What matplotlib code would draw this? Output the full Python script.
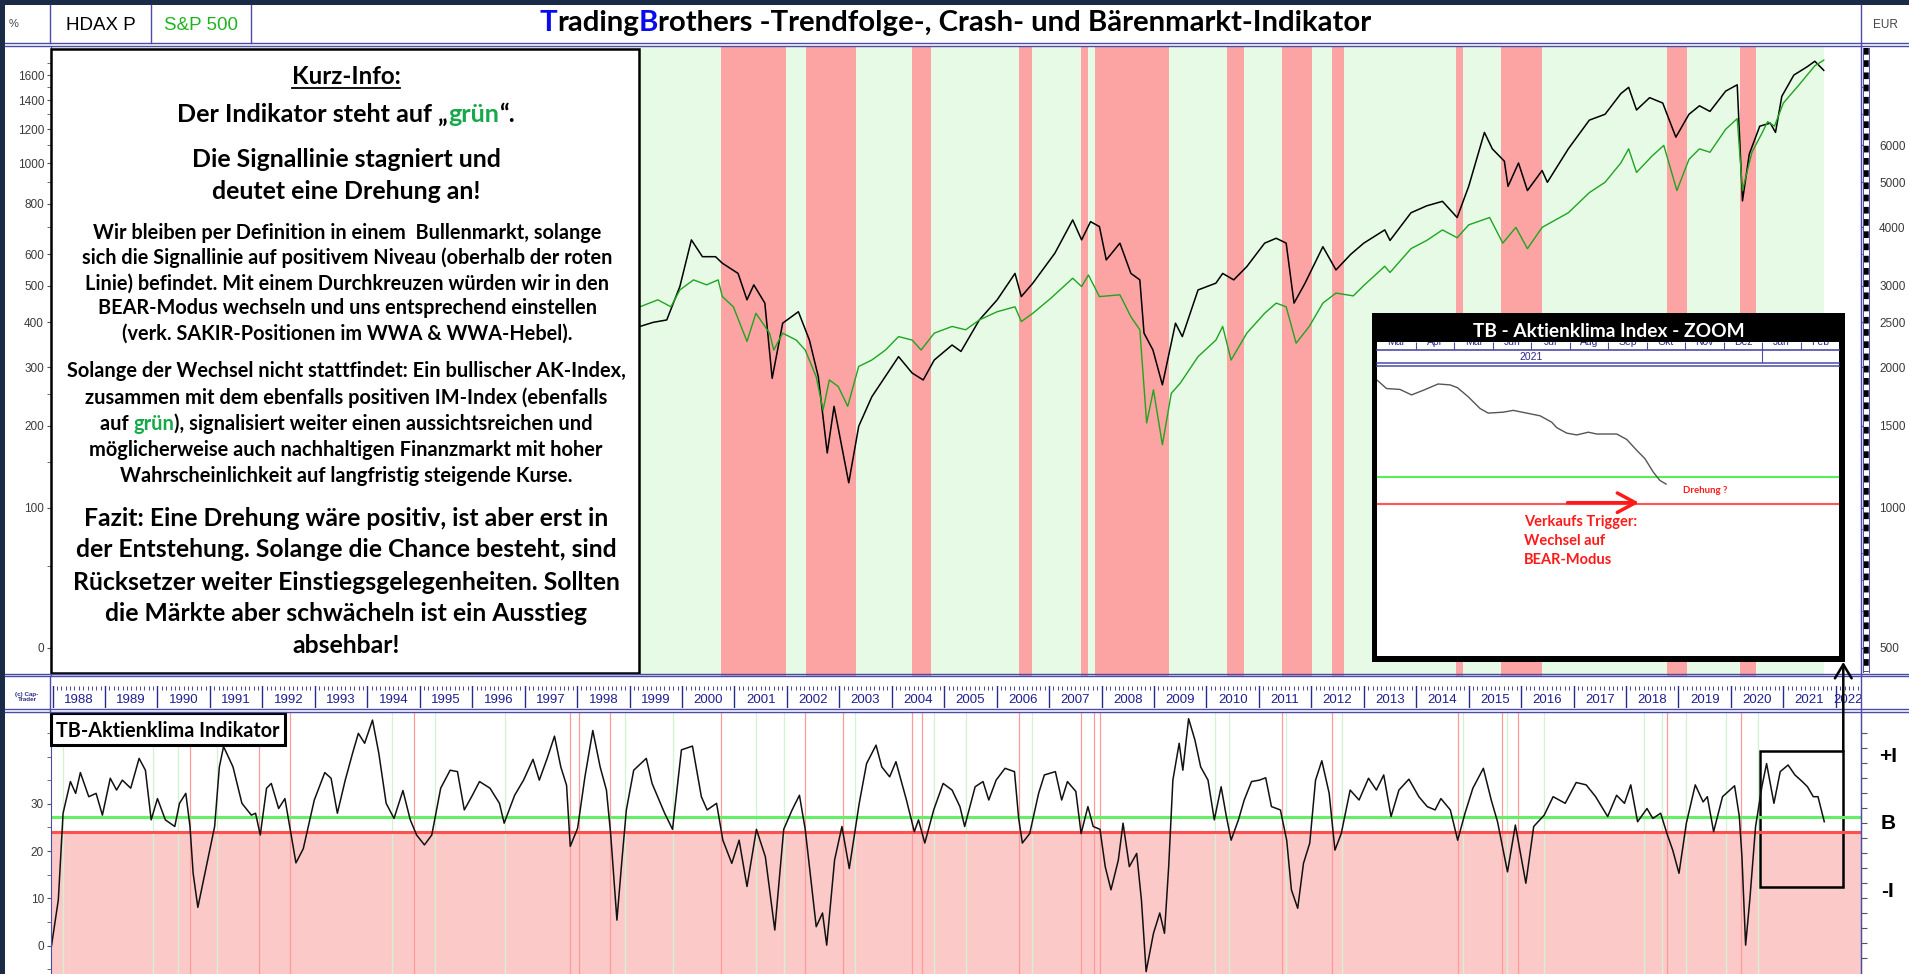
import numpy as np
import matplotlib
matplotlib.use("Agg")
import matplotlib.pyplot as plt
from matplotlib.patches import Rectangle

# ---------------- data ----------------
# upper panel, change in % (left axis): HDAX P (black) and S&P 500 (green)
hdax_years = [1999.0, 1999.20, 1999.45, 1999.71, 1999.96, 2000.18, 2000.39, 2000.64, 2000.77, 2001.07,
              2001.24, 2001.37, 2001.58, 2001.72, 2001.92, 2002.22, 2002.43, 2002.60, 2002.77, 2002.90,
              2003.18, 2003.37, 2003.62, 2003.96, 2004.13, 2004.39, 2004.60, 2004.81, 2005.15, 2005.32,
              2005.67, 2006.01, 2006.35, 2006.47, 2006.69, 2007.11, 2007.45, 2007.62, 2007.79, 2007.96,
              2008.09, 2008.35, 2008.56, 2008.73, 2008.81, 2008.98, 2009.16, 2009.41, 2009.54, 2009.84,
              2010.18, 2010.31, 2010.52, 2010.77, 2011.11, 2011.33, 2011.52, 2011.67, 2011.88, 2012.22,
              2012.47, 2012.75, 2013.0, 2013.4, 2013.5, 2013.9, 2014.2, 2014.5, 2014.78, 2015.0,
              2015.3, 2015.45, 2015.68, 2015.75, 2015.95, 2016.12, 2016.4, 2016.5, 2016.9, 2017.3,
              2017.6, 2017.9, 2018.05, 2018.2, 2018.45, 2018.7, 2018.95, 2019.2, 2019.4, 2019.6,
              2019.9, 2020.12, 2020.22, 2020.35, 2020.55, 2020.75, 2020.85, 2020.97, 2021.2, 2021.45,
              2021.6, 2021.77]
hdax_pct = [380, 390, 400, 406, 497, 652, 592, 592, 570, 537,
            459, 502, 450, 279, 398, 427, 358, 282, 162, 230,
            126, 199, 246, 295, 322, 289, 276, 315, 347, 333,
            406, 459, 537, 468, 507, 604, 730, 652, 723, 703,
            581, 640, 537, 517, 374, 336, 267, 398, 366, 487,
            507, 537, 517, 559, 640, 658, 640, 450, 507, 627,
            548, 600, 640, 690, 650, 760, 790, 810, 740, 880,
            1180, 1080, 1010, 880, 1000, 860, 960, 900, 1080, 1260,
            1300, 1450, 1500, 1330, 1420, 1380, 1150, 1300, 1360, 1320,
            1470, 1520, 812, 1050, 1220, 1240, 1180, 1430, 1600, 1670,
            1720, 1640]

spx_years = [1999.0, 1999.20, 1999.54, 1999.79, 1999.96, 2000.22, 2000.47, 2000.69, 2000.77, 2000.98,
             2001.24, 2001.41, 2001.67, 2001.75, 2001.92, 2002.18, 2002.35, 2002.56, 2002.69, 2002.81,
             2002.98, 2003.16, 2003.37, 2003.62, 2003.88, 2004.13, 2004.39, 2004.56, 2004.81, 2005.15,
             2005.41, 2005.67, 2006.01, 2006.35, 2006.47, 2006.69, 2007.03, 2007.45, 2007.62, 2007.75,
             2007.96, 2008.35, 2008.56, 2008.73, 2008.86, 2008.99, 2009.16, 2009.33, 2009.50, 2009.84,
             2010.18, 2010.31, 2010.47, 2010.77, 2011.11, 2011.33, 2011.52, 2011.71, 2011.96, 2012.22,
             2012.47, 2012.8, 2013.0, 2013.4, 2013.5, 2013.9, 2014.2, 2014.5, 2014.78, 2015.0,
             2015.4, 2015.65, 2015.9, 2016.12, 2016.4, 2016.9, 2017.3, 2017.6, 2017.9, 2018.05,
             2018.2, 2018.5, 2018.72, 2018.97, 2019.2, 2019.4, 2019.6, 2019.9, 2020.12, 2020.22,
             2020.4, 2020.6, 2020.7, 2020.83, 2021.0, 2021.3, 2021.6, 2021.77]
spx_pct = [430, 440, 459, 440, 487, 517, 502, 517, 468, 440,
           355, 423, 374, 336, 374, 358, 336, 282, 224, 276,
           264, 230, 302, 315, 336, 366, 358, 336, 374, 390,
           382, 406, 427, 440, 402, 423, 463, 522, 497, 532,
           468, 473, 414, 382, 204, 258, 173, 252, 270, 322,
           358, 390, 315, 374, 423, 450, 440, 351, 390, 450,
           478, 470, 500, 560, 540, 620, 650, 690, 660, 710,
           740, 640, 700, 620, 700, 760, 850, 900, 1000, 1080,
           950, 1040, 1100, 860, 1020, 1080, 1060, 1200, 1270, 860,
           1060, 1180, 1250, 1220, 1380, 1520, 1680, 1730]

# red (bear) phases of the upper panel; green everywhere else up to the last signal
bear_start = [2000.75, 2002.37, 2004.39, 2006.42, 2007.61, 2007.88, 2010.40, 2011.44, 2012.39,
              2014.76, 2015.61, 2018.78, 2020.17]
bear_end = [2001.99, 2003.31, 2004.74, 2006.67, 2007.74, 2009.29, 2010.71, 2012.02, 2012.62,
            2014.89, 2016.40, 2019.16, 2020.47]
signal_from = 1987.97
signal_to = 2021.77

# TB-Aktienklima indicator (lower panel)
ind_years = [1987.98, 1988.11, 1988.20, 1988.34, 1988.44, 1988.53, 1988.69, 1988.83, 1988.95, 1989.10,
             1989.22, 1989.33, 1989.49, 1989.65, 1989.77, 1989.88, 1990.00, 1990.15, 1990.33, 1990.42,
             1990.54, 1990.62, 1990.68, 1990.77, 1990.97, 1991.09, 1991.18, 1991.26, 1991.44, 1991.61,
             1991.79, 1991.87, 1991.96, 1992.08, 1992.17, 1992.31, 1992.43, 1992.64, 1992.78, 1992.99,
             1993.19, 1993.31, 1993.43, 1993.58, 1993.72, 1993.83, 1993.95, 1994.10, 1994.22, 1994.36,
             1994.51, 1994.68, 1994.82, 1994.94, 1995.09, 1995.23, 1995.40, 1995.58, 1995.72, 1995.85,
             1995.99, 1996.14, 1996.34, 1996.52, 1996.61, 1996.81, 1996.98, 1997.16, 1997.28, 1997.43,
             1997.57, 1997.69, 1997.80, 1997.87, 1998.01, 1998.15, 1998.30, 1998.44, 1998.56, 1998.64,
             1998.76, 1998.85, 1998.94, 1999.08, 1999.32, 1999.43, 1999.67, 1999.82, 1999.99, 2000.20,
             2000.37, 2000.48, 2000.66, 2000.78, 2000.95, 2001.09, 2001.24, 2001.42, 2001.59, 2001.77,
             2001.94, 2002.10, 2002.24, 2002.35, 2002.56, 2002.68, 2002.76, 2002.91, 2003.05, 2003.19,
             2003.38, 2003.52, 2003.70, 2003.81, 2003.96, 2004.08, 2004.28, 2004.43, 2004.51, 2004.63,
             2004.80, 2004.98, 2005.15, 2005.30, 2005.39, 2005.59, 2005.74, 2005.85, 2005.99, 2006.16,
             2006.34, 2006.42, 2006.49, 2006.63, 2006.80, 2006.91, 2007.12, 2007.24, 2007.35, 2007.51,
             2007.61, 2007.74, 2007.84, 2007.97, 2008.07, 2008.18, 2008.32, 2008.41, 2008.53, 2008.67,
             2008.76, 2008.85, 2008.99, 2009.11, 2009.20, 2009.28, 2009.36, 2009.48, 2009.55, 2009.66,
             2009.78, 2009.89, 2010.03, 2010.15, 2010.28, 2010.38, 2010.47, 2010.61, 2010.72, 2010.86,
             2011.01, 2011.13, 2011.24, 2011.41, 2011.53, 2011.62, 2011.74, 2011.85, 2011.97, 2012.08,
             2012.20, 2012.34, 2012.45, 2012.57, 2012.74, 2012.91, 2013.09, 2013.24, 2013.38, 2013.52,
             2013.67, 2013.86, 2014.05, 2014.21, 2014.36, 2014.47, 2014.65, 2014.79, 2014.93, 2015.08,
             2015.28, 2015.43, 2015.55, 2015.74, 2015.89, 2016.09, 2016.24, 2016.44, 2016.61, 2016.84,
             2017.05, 2017.24, 2017.42, 2017.65, 2017.82, 2017.97, 2018.09, 2018.22, 2018.40, 2018.51,
             2018.66, 2018.78, 2018.89, 2019.01, 2019.15, 2019.32, 2019.47, 2019.55, 2019.67, 2019.84,
             2020.07, 2020.16, 2020.21, 2020.28, 2020.36, 2020.47, 2020.59, 2020.68, 2020.82, 2020.94,
             2021.09, 2021.22, 2021.36, 2021.46, 2021.57, 2021.66, 2021.78]
ind_vals = [0.0, 9.7, 28.0, 34.7, 32.2, 36.6, 31.5, 32.2, 27.6, 35.4,
            32.9, 35.0, 33.3, 39.6, 37.1, 26.6, 31.1, 26.6, 25.2, 30.1,
            32.2, 25.2, 15.3, 8.1, 18.8, 25.2, 37.8, 42.1, 37.8, 30.1,
            27.6, 28.0, 23.4, 33.3, 34.3, 29.0, 31.1, 17.5, 20.5, 30.8,
            36.6, 35.4, 28.0, 35.0, 40.7, 44.9, 42.8, 47.7, 40.7, 30.1,
            26.9, 32.8, 26.6, 23.4, 21.3, 23.4, 33.3, 37.1, 36.8, 28.7,
            31.5, 34.7, 33.3, 30.1, 25.9, 31.8, 35.0, 39.4, 35.0, 39.6,
            44.3, 37.8, 33.9, 21.0, 24.8, 35.7, 45.5, 37.8, 32.9, 23.7,
            5.4, 17.4, 28.7, 37.1, 39.6, 34.3, 28.0, 24.6, 41.4, 42.2,
            31.5, 28.7, 30.1, 22.3, 17.4, 22.3, 12.5, 24.6, 18.8, 3.3,
            24.6, 28.7, 31.8, 24.6, 4.0, 6.9, 0.1, 18.1, 25.2, 16.3,
            30.1, 38.5, 42.4, 37.8, 35.7, 38.9, 30.8, 24.1, 26.6, 21.7,
            28.7, 34.3, 32.9, 29.4, 25.2, 33.6, 34.7, 30.8, 35.0, 37.5,
            36.8, 26.9, 21.7, 23.7, 32.2, 36.1, 36.8, 30.8, 34.7, 32.6,
            23.7, 29.4, 25.2, 24.6, 16.7, 11.8, 18.1, 25.9, 16.7, 19.5,
            9.7, -5.5, 2.6, 6.9, 2.6, 16.7, 35.0, 42.8, 37.1, 48.0,
            43.5, 37.8, 35.0, 26.6, 33.6, 27.3, 22.3, 26.6, 30.8, 34.7,
            35.0, 35.5, 29.4, 28.7, 22.3, 11.8, 7.9, 17.4, 21.7, 35.0,
            39.1, 32.2, 20.2, 23.7, 32.9, 30.8, 35.4, 32.9, 36.1, 27.3,
            32.9, 35.2, 31.5, 29.4, 28.7, 31.1, 28.7, 22.3, 28.0, 33.3,
            37.5, 30.8, 26.2, 15.6, 25.5, 13.2, 25.2, 27.6, 31.5, 30.1,
            34.5, 34.0, 31.5, 27.3, 31.8, 30.1, 34.0, 26.2, 29.0, 26.9,
            28.0, 23.7, 20.2, 15.3, 25.9, 34.0, 30.4, 31.5, 24.1, 31.5,
            33.8, 27.3, 18.8, 0.1, 9.7, 25.2, 33.6, 38.5, 30.1, 36.8,
            38.2, 36.1, 34.7, 33.6, 31.5, 31.5, 26.2]
bull_level = 27.1
bear_level = 24.1
red_marks = [1990.62, 1991.93, 1992.52, 1994.90, 1997.86, 1998.03, 1998.62, 2000.75, 2002.35, 2003.08,
             2004.39, 2004.57, 2006.43, 2007.61, 2007.86, 2007.97, 2011.44, 2012.40, 2014.79, 2015.63,
             2015.94, 2018.78, 2020.19]
green_marks = [1988.20, 1989.92, 1990.39, 1991.14, 1994.47, 1995.29, 1996.63, 1998.91, 1999.82, 2001.42,
               2001.94, 2003.29, 2004.80, 2005.41, 2006.68, 2010.17, 2010.43, 2011.51, 2012.59, 2014.90,
               2015.74, 2016.44, 2018.34, 2018.68, 2019.15, 2019.90, 2020.51]

# zoom window (months after 1 March 2021)
zoom_months = [0, 0.24, 0.59, 0.89, 1.19, 1.58, 1.89, 2.08, 2.36, 2.67, 2.88, 3.27, 3.53, 3.88,
               4.23, 4.53, 4.66, 4.92, 5.18, 5.48, 5.70, 6.22, 6.48, 6.74, 6.95, 7.17, 7.34, 7.50]
zoom_vals = [37.7, 36.8, 36.7, 36.1, 36.6, 37.3, 37.2, 36.9, 35.9, 34.6, 34.1, 34.2, 34.4, 34.1,
             33.8, 33.1, 32.5, 31.9, 31.7, 32.0, 31.8, 31.8, 31.2, 30.0, 29.1, 27.6, 26.7, 26.3]
zoom_month_names = ["Mär", "Apr", "Mai", "Jun", "Jul", "Aug", "Sep", "Okt", "Nov", "Dez", "Jan", "Feb"]

pct_ticks = [0, 100, 200, 300, 400, 500, 600, 800, 1000, 1200, 1400, 1600]
eur_ticks = [500, 1000, 1500, 2000, 2500, 3000, 4000, 5000, 6000]
ind_ticks = [0, 10, 20, 30]
years = list(range(1988, 2023))

# ---------------- layout ----------------
W, H = 1909, 974
NAVY = "#1b2a47"
FRAME = "#4b4ba8"
BEAR = "#fca3a3"
BULL = "#e6fae6"
PINK = "#fcc9c9"
GTXT = "#17a84a"
XMIN, XMAX = 1987.97, 2022.48

fig = plt.figure(figsize=(W / 100, H / 100), dpi=100)
fig.patch.set_facecolor("white")
renderer = fig.canvas.get_renderer()


def frac(x0, y0, x1, y1):
    return [x0 / W, 1 - y1 / H, (x1 - x0) / W, (y1 - y0) / H]


def fwd(p):
    return np.log(np.clip(100 + np.asarray(p, dtype=float), 1e-6, None))


def inv(v):
    return np.exp(v) - 100


# upper panel
ax = fig.add_axes(frac(51, 47, 1861, 676))
ax.set_yscale("function", functions=(fwd, inv))
ax.set_xlim(XMIN, XMAX)
ax.set_ylim(-13.1, 1853)
ax.axvspan(signal_from, signal_to, color=BULL, lw=0)
for s, e in zip(bear_start, bear_end):
    ax.axvspan(s, e, color=BEAR, lw=0)
ax.plot(hdax_years, hdax_pct, color="black", lw=1.1)
ax.plot(spx_years, spx_pct, color="#1fa51f", lw=1.0)
ax.set_xticks([])
ax.set_yticks(pct_ticks)
ax.set_yticklabels([str(t) for t in pct_ticks], family="Liberation Sans", fontsize=8.5, color="#3a3a3a")
ax.set_yticks([50, 150, 250, 700, 900, 1100, 1300, 1500, 1700], minor=True)
ax.tick_params(axis="y", which="both", direction="out", length=3, pad=2, color="#555555")
for sp in ["top", "bottom"]:
    ax.spines[sp].set_visible(False)
for sp in ["left", "right"]:
    ax.spines[sp].set_color(FRAME)

axr = ax.twinx()
axr.set_yscale("function", functions=(fwd, inv))
axr.set_ylim(-13.1, 1853)
axr.set_yticks([e / 5 - 100 for e in eur_ticks])
axr.set_yticklabels([str(e) for e in eur_ticks], family="Liberation Sans", fontsize=8.5, color="#3a3a3a")
axr.set_yticks([e / 5 - 100 for e in [600, 700, 800, 900, 3500, 7000, 8000]], minor=True)
axr.tick_params(axis="y", which="both", direction="out", length=3, pad=10, color="#555555")
for sp in axr.spines.values():
    sp.set_visible(False)

# date strip
axd = fig.add_axes(frac(51, 686, 1861, 708))
axd.set_xlim(XMIN, XMAX)
axd.set_ylim(0, 1)
axd.axis("off")
for y in years:
    axd.axvline(y, color="#2a2a8a", lw=1)
    axd.vlines([y + m / 12 for m in range(1, 12)], 0.8, 1.0, color="#2a2a8a", lw=0.6)
    axd.text(y + 0.5 if y < 2022 else 2022.24, 0.35, str(y), ha="center", va="center",
             family=["Liberation Sans Narrow", "Liberation Sans"], fontsize=9.5, color="#1f1f8f", clip_on=True)

# lower panel
axb = fig.add_axes(frac(51, 713, 1861, 974))
axb.set_xlim(XMIN, XMAX)
axb.set_ylim(-6.0, 49.2)
axb.axhspan(-10, bear_level, color=PINK, lw=0)
for r in red_marks:
    axb.axvline(r, color="#ff9a9a", lw=0.9)
for g in green_marks:
    axb.axvline(g, color="#d2f3d2", lw=0.9)
axb.axhline(bull_level, color="#66ee66", lw=2.2)
axb.axhline(bear_level, color="#ff5050", lw=2.2)
axb.plot(ind_years, ind_vals, color="#111111", lw=1.1)
axb.add_patch(Rectangle((2020.56, 12.3), 2022.14 - 2020.56, 41.2 - 12.3, fill=False, ec="black", lw=1.8))
axb.set_xticks([])
axb.set_yticks(ind_ticks)
axb.set_yticklabels([str(t) for t in ind_ticks], family="Liberation Sans", fontsize=8.5, color="#3a3a3a")
axb.set_yticks([-5, 5, 15, 25, 35, 40, 45], minor=True)
axb.tick_params(axis="y", which="both", direction="out", length=3, pad=2, color="#555555")
for sp in ["top", "bottom"]:
    axb.spines[sp].set_visible(False)
for sp in ["left", "right"]:
    axb.spines[sp].set_color(FRAME)
axb2 = axb.twinx()
axb2.set_ylim(-6.0, 49.2)
axb2.set_yticks([44.9 - 3.17 * k for k in range(16)])
axb2.set_yticklabels([])
axb2.tick_params(axis="y", direction="out", length=4, color="#555555")
for sp in axb2.spines.values():
    sp.set_visible(False)

# ---------------- overlay (pixel coordinates) ----------------
ov = fig.add_axes([0, 0, 1, 1])
ov.set_xlim(0, W)
ov.set_ylim(H, 0)
ov.axis("off")
ov.set_zorder(5)


def text_w(s, size, family="Lato", weight="bold"):
    t = fig.text(0, 0, s, fontsize=size, family=family, weight=weight)
    w = t.get_window_extent(renderer).width
    t.remove()
    return w


def fit(lines, targets, family="Lato", weight="bold"):
    r = [tw / text_w(s, 20, family, weight) for s, tw in zip(lines, targets)]
    return 20 * float(np.median(r))


def rich(axis, xc, yc, parts, size, family="Lato", weight="bold"):
    full = "".join(p[0] for p in parts)
    total = text_w(full, size, family, weight)
    x0 = xc - total / 2
    base = yc + 0.358 * size * 100 / 72
    prefix = ""
    for txt, col in parts:
        off = 0
        if prefix:
            off = text_w(prefix + txt[0], size, family, weight) - text_w(txt[0], size, family, weight)
        axis.text(x0 + off, base, txt, fontsize=size, color=col, family=family, weight=weight,
                  ha="left", va="baseline")
        prefix += txt
    return x0, total, base


# navy frame and table lines
ov.add_patch(Rectangle((0, 0), 4.5, H, color=NAVY, lw=0))
ov.add_patch(Rectangle((0, 0), W, 5, color=NAVY, lw=0))
for yy in [43, 46, 673.5, 676, 708.5, 711.5]:
    ov.plot([4.5, W], [yy, yy], color=FRAME, lw=1)
for xx in [50, 151, 251]:
    ov.plot([xx, xx], [5, 43], color=FRAME, lw=1)
ov.plot([50, 50], [676, 711.5], color=FRAME, lw=1)
ov.plot([1861, 1861], [5, H], color=FRAME, lw=1)

# scale bar right of the upper panel
ov.plot([1866, 1866], [48, 672], color="white", lw=4, solid_capstyle="butt")
ov.plot([1866, 1866], [48, 672], color="black", lw=4, dashes=(1.2, 1.0), dash_capstyle="butt")
ov.plot([1862.8, 1862.8], [48, 672], color=FRAME, lw=0.7)
ov.plot([1869.2, 1869.2], [48, 672], color=FRAME, lw=0.7)
ov.add_patch(Rectangle((1863, 49), 6, 11, color="#f0e040", lw=0))

# header
ov.text(13.5, 24, "%", fontsize=8, color="#444444", family="Liberation Sans", ha="center", va="center")
ov.text(100.5, 25, "HDAX P", fontsize=13.5, color="black", family=["Liberation Sans Narrow", "Liberation Sans"],
        ha="center", va="center")
ov.text(201, 25, "S&P 500", fontsize=13.5, color="#1fb41f", family=["Liberation Sans Narrow", "Liberation Sans"],
        ha="center", va="center")
ov.text(1885, 25, "EUR", fontsize=8.5, color="#444444", family="Liberation Sans", ha="center", va="center")
title = "TradingBrothers -Trendfolge-, Crash- und Bärenmarkt-Indikator"
ts = fit([title], [835])
rich(ov, 955.5, 20, [("T", "#0a0aee"), ("rading", "black"), ("B", "#0a0aee"),
                     ("rothers -Trendfolge-, Crash- und Bärenmarkt-Indikator", "black")], ts)

# info box
ov.add_patch(Rectangle((51, 49), 588, 624, fc="white", ec="black", lw=1.8))
XC = 346
s1 = fit(["Kurz-Info:"], [109])
x0, tw, base = rich(ov, XC, 75.7, [("Kurz-Info:", "black")], s1)
ov.plot([x0, x0 + tw], [base + 3.5, base + 3.5], color="black", lw=1.3)

s2 = fit(["Der Indikator steht auf „grün“."], [338])
rich(ov, XC, 113.3, [("Der Indikator steht auf „", "black"), ("grün", GTXT), ("“.", "black")], s2)

g3 = ["Die Signallinie stagniert und", "deutet eine Drehung an!"]
s3 = fit(g3, [309, 270])
for line, yy in zip(g3, [158.3, 190]):
    rich(ov, XC, yy, [(line, "black")], s3)

g4 = ["Wir bleiben per Definition in einem  Bullenmarkt, solange",
      "sich die Signallinie auf positivem Niveau (oberhalb der roten",
      "Linie) befindet. Mit einem Durchkreuzen würden wir in den",
      "BEAR-Modus wechseln und uns entsprechend einstellen",
      "(verk. SAKIR-Positionen im WWA & WWA-Hebel)."]
s4 = fit(g4, [508, 532, 523, 494, 440])
for line, yy in zip(g4, [231.7, 256.7, 282.3, 307.3, 332.3]):
    rich(ov, XC + 1, yy, [(line, "black")], s4)

g5 = ["Solange der Wechsel nicht stattfindet: Ein bullischer AK-Index,",
      "zusammen mit dem ebenfalls positiven IM-Index (ebenfalls",
      "auf grün), signalisiert weiter einen aussichtsreichen und",
      "möglicherweise auch nachhaltigen Finanzmarkt mit hoher",
      "Wahrscheinlichkeit auf langfristig steigende Kurse."]
s5 = fit(g5, [549, 521, 493, 511, 448])
for line, yy in zip(g5, [370, 397, 423.3, 449, 475]):
    if line.startswith("auf grün"):
        rich(ov, XC, yy, [("auf ", "black"), ("grün", GTXT),
                          ("), signalisiert weiter einen aussichtsreichen und", "black")], s5)
    else:
        rich(ov, XC, yy, [(line, "black")], s5)

g6 = ["Fazit: Eine Drehung wäre positiv, ist aber erst in",
      "der Entstehung. Solange die Chance besteht, sind",
      "Rücksetzer weiter Einstiegsgelegenheiten. Sollten",
      "die Märkte aber schwächeln ist ein Ausstieg",
      "absehbar!"]
s6 = fit(g6, [525, 541, 547, 485, 111])
for line, yy in zip(g6, [516.7, 548.3, 580.7, 612.3, 644]):
    rich(ov, XC, yy, [(line, "black")], s6)

# small left cell under the panel
ov.text(27, 697, "(c) Cap-\nTrader", fontsize=4.5, color="#2a2a8a", family="Liberation Sans",
        weight="bold", ha="center", va="center", linespacing=1.0)

# lower panel label box and right-hand labels
ov.add_patch(Rectangle((51, 713), 234, 32, fc="white", ec="black", lw=2.2))
s7 = fit(["TB-Aktienklima Indikator"], [222])
rich(ov, 168, 730, [("TB-Aktienklima Indikator", "black")], s7)
for lab, yy in [("+I", 756.7), ("B", 823.3), ("-I", 891.7)]:
    ov.text(1888, yy, lab, fontsize=15, weight="bold", family="Liberation Sans", ha="center", va="center")

# zoom window frame
ov.add_patch(Rectangle((1371.7, 312.7), 473.3, 349, color="black", lw=0))
ov.add_patch(Rectangle((1377.3, 341.7), 462, 314.3, color="white", lw=0))
s8 = fit(["TB - Aktienklima Index - ZOOM"], [272])
rich(ov, 1609, 330.5, [("TB - Aktienklima Index - ZOOM", "white")], s8)

axm = fig.add_axes(frac(1377.3, 341.7, 1839.3, 350.4))
axm.set_zorder(10)
axm.set_xlim(0, 12)
axm.set_ylim(0, 1)
axm.axis("off")
for m, name in enumerate(zoom_month_names):
    axm.text(m + 0.5, 1.0, name, ha="center", va="center", fontsize=7.5, color="#2a2a8a",
             family="Liberation Sans", clip_on=True)
axm.vlines(range(1, 12), 0, 1, color=FRAME, lw=0.8)
axm.axhline(0, color=FRAME, lw=1.2, clip_on=False)

axy = fig.add_axes(frac(1377.3, 350.4, 1839.3, 362.7))
axy.set_zorder(10)
axy.set_xlim(0, 12)
axy.set_ylim(0, 1)
axy.axis("off")
axy.text(4.0, 0.5, "2021", ha="center", va="center", fontsize=7.5, color="#2a2a8a", family="Liberation Sans")
axy.axvline(10, color=FRAME, lw=0.8)
axy.plot([0, 12], [-0.03, -0.03], color=FRAME, lw=1.1, clip_on=False)
axy.plot([0, 12], [-0.3, -0.3], color=FRAME, lw=1.1, clip_on=False)

axz = fig.add_axes(frac(1377.3, 366.7, 1839.3, 656))
axz.set_zorder(10)
axz.set_xlim(0, 12)
axz.set_ylim(7.4, 39.2)
axz.axis("off")
axz.axhline(bull_level, color="#55ee55", lw=1.5)
axz.axhline(bear_level, color="#ff5555", lw=1.5)
axz.plot(zoom_months, zoom_vals, color="#555555", lw=1.0)
axz.annotate("", xy=(6.87, 24.25), xytext=(4.87, 24.25),
             arrowprops=dict(arrowstyle="->,head_length=1.3,head_width=0.7", color="#ff1a1a", lw=2.5))
axz.text(8.52, 25.56, "Drehung ?", color="#ff1a1a", fontsize=fit(["Drehung ?"], [44]), weight="bold",
         family="Lato", ha="center", va="center")
s9 = fit(["Verkaufs Trigger:"], [113])
for line, yy in zip(["Verkaufs Trigger:", "Wechsel auf", "BEAR-Modus"], [22.15, 20.07, 17.94]):
    axz.text(3.81, yy, line, color="#ff1a1a", fontsize=s9, weight="bold", family="Lato",
             ha="left", va="center")

# arrow from the small box up to the zoom window
ov2 = fig.add_axes([0, 0, 1, 1])
ov2.set_xlim(0, W)
ov2.set_ylim(H, 0)
ov2.axis("off")
ov2.set_zorder(20)
ov2.annotate("", xy=(1843.3, 662), xytext=(1843.3, 751),
             arrowprops=dict(arrowstyle="->,head_length=1.0,head_width=0.6", color="black", lw=1.8,
                             shrinkA=0, shrinkB=0))

fig.savefig("out.png", dpi=100)
